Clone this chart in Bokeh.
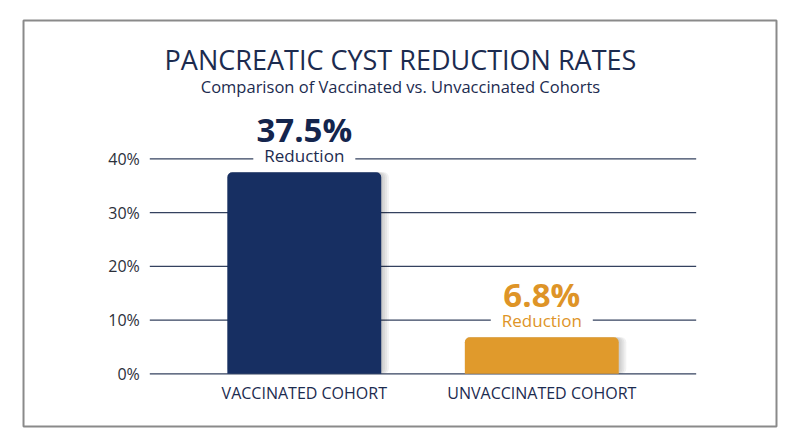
from bokeh.plotting import figure
from bokeh.models import Range1d
from bokeh.core.properties import value
from bokeh.embed import file_html
from bokeh.resources import INLINE

# ---- data ----
categories = ["VACCINATED COHORT", "UNVACCINATED COHORT"]
reductions = [37.5, 6.8]
value_labels = ["37.5%", "6.8%"]
sub_labels = ["Reduction", "Reduction"]
y_ticks = [0, 10, 20, 30, 40]
y_tick_labels = ["0%", "10%", "20%", "30%", "40%"]
title_text = "PANCREATIC CYST REDUCTION RATES"
subtitle_text = "Comparison of Vaccinated vs. Unvaccinated Cohorts"
bar_colors = ["#172f62", "#e09a2c"]
label_colors = ["#14254d", "#de9427"]
sub_colors = ["#1c2b4f", "#de9427"]

FONT = "Open Sans"
NAVY = "#1c2b4f"

# ---- layout constants ----
X0, X1 = -0.7792, 2.5219
Y0, Y1 = -10.73, 69.45
BAR_W = 0.648
GRID_X0, GRID_X1 = -0.1506, 2.150

xs = [i + 0.5 for i in range(len(categories))]

p = figure(width=784, height=431, output_backend="svg", toolbar_location=None,
           x_range=Range1d(X0, X1), y_range=Range1d(Y0, Y1),
           x_axis_type=None, y_axis_type=None, min_border=0)
p.outline_line_color = None
p.grid.visible = False
p.background_fill_color = "white"
p.border_fill_color = "white"

# outer frame box
p.quad(left=[-0.6823], right=[2.4882], bottom=[-9.80], top=[65.73],
       fill_color=None, line_color="#8a8a8a", line_width=2)

# gridlines
p.segment(x0=[GRID_X0] * len(y_ticks), x1=[GRID_X1] * len(y_ticks),
          y0=y_ticks, y1=y_ticks, line_color="#34425f", line_width=1.2)

# y tick labels
p.text(x=[-0.1927] * len(y_ticks), y=y_ticks, text=y_tick_labels,
       text_align="right", text_baseline="middle", text_color="#2b2f3a",
       text_font=value(FONT), text_font_size="16px")

# "Reduction" labels with white background to break the gridlines
p.text(x=xs, y=reductions, text=sub_labels, y_offset=-16.5,
       text_align="center", text_baseline="middle", text_color=sub_colors,
       text_font=value(FONT), text_font_size="17px",
       background_fill_color="white", padding=11)

# shadows
for k in range(4):
    off = 0.004 * (k + 1)
    p.vbar(x=[x + off for x in xs], top=reductions, bottom=0, width=BAR_W + 2 * off,
           fill_color="#000000", fill_alpha=0.05, line_color=None, border_radius=5)

# bars
p.vbar(x=xs, top=reductions, bottom=0, width=BAR_W, fill_color=bar_colors,
       line_color=None, border_radius=[5, 5, 0, 0])

# big value labels
p.text(x=xs, y=reductions, text=value_labels, y_offset=-43,
       text_align="center", text_baseline="middle", text_color=label_colors,
       text_font=value(FONT), text_font_size="33px", text_font_style="bold")

# category labels
p.text(x=xs, y=[-3.48] * len(xs), text=categories,
       text_align="center", text_baseline="middle", text_color=NAVY,
       text_font=value(FONT), text_font_size="16px")

# title and subtitle
p.text(x=[0.905], y=[58.47], text=[title_text], text_align="center",
       text_baseline="middle", text_color=NAVY, text_font=value(FONT),
       text_font_size="27px")
p.text(x=[0.905], y=[53.45], text=[subtitle_text], text_align="center",
       text_baseline="middle", text_color=NAVY, text_font=value(FONT),
       text_font_size="16.5px")

open("out.html", "w").write(file_html(p, INLINE))
